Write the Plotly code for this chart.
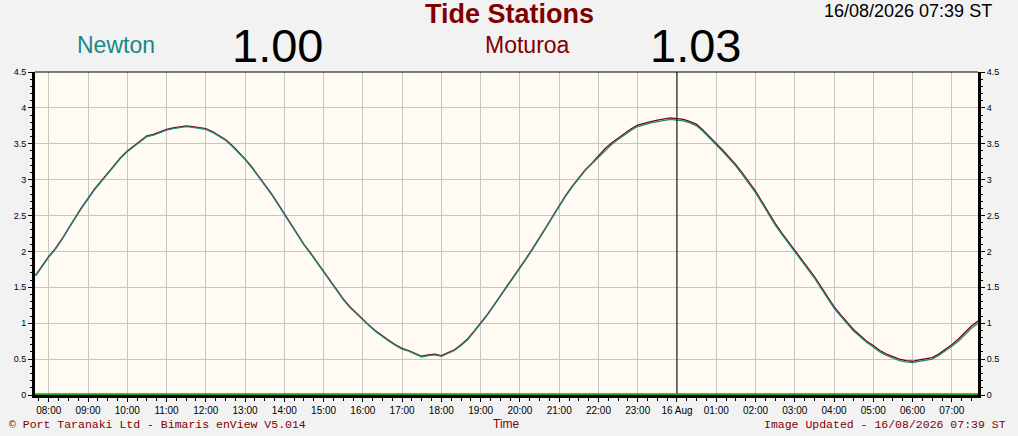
import pandas as pd
import plotly.graph_objects as go

# ── Data (tide height in metres, 10-minute readings from 07:40 15 Aug) ──────
START = "2026-08-15 07:40"
STEP = "10min"

newton = [
    1.66, 1.79,
    1.92, 2.03, 2.16, 2.31, 2.46, 2.60,
    2.73, 2.86, 2.97, 3.08, 3.18, 3.30,
    3.39, 3.46, 3.54, 3.60, 3.62, 3.66,
    3.69, 3.71, 3.72, 3.74, 3.73, 3.72,
    3.70, 3.66, 3.61, 3.55, 3.47, 3.38,
    3.28, 3.17, 3.05, 2.93, 2.80, 2.66,
    2.52, 2.38, 2.23, 2.09, 1.97, 1.84,
    1.72, 1.58, 1.45, 1.33, 1.22, 1.13,
    1.05, 0.96, 0.88, 0.81, 0.75, 0.69,
    0.64, 0.61, 0.57, 0.53, 0.55, 0.56,
    0.54, 0.58, 0.62, 0.69, 0.77, 0.88,
    0.99, 1.11, 1.24, 1.37, 1.50, 1.63,
    1.76, 1.90, 2.04, 2.18, 2.33, 2.48,
    2.63, 2.77, 2.90, 3.02, 3.13, 3.22,
    3.31, 3.41, 3.49, 3.56, 3.63, 3.69,
    3.74, 3.77, 3.79, 3.81, 3.82, 3.84,
    3.83, 3.82, 3.79, 3.75, 3.67, 3.58,
    3.49, 3.39, 3.29, 3.19, 3.07, 2.95,
    2.82, 2.67, 2.52, 2.37, 2.24, 2.12,
    2.00, 1.88, 1.76, 1.63, 1.49, 1.35,
    1.21, 1.10, 0.99, 0.89, 0.81, 0.73,
    0.67, 0.60, 0.55, 0.51, 0.48, 0.46,
    0.45, 0.47, 0.48, 0.50, 0.55, 0.61,
    0.68, 0.75, 0.84, 0.93, 1.00,
]

moturoa = [
    1.67, 1.80,
    1.93, 2.04, 2.17, 2.32, 2.47, 2.61,
    2.74, 2.87, 2.98, 3.09, 3.19, 3.31,
    3.40, 3.47, 3.55, 3.61, 3.63, 3.67,
    3.70, 3.72, 3.73, 3.75, 3.74, 3.73,
    3.71, 3.67, 3.62, 3.56, 3.48, 3.39,
    3.29, 3.18, 3.06, 2.94, 2.81, 2.67,
    2.53, 2.39, 2.24, 2.10, 1.98, 1.85,
    1.73, 1.59, 1.46, 1.34, 1.23, 1.14,
    1.06, 0.97, 0.89, 0.82, 0.76, 0.70,
    0.65, 0.62, 0.58, 0.54, 0.56, 0.57,
    0.55, 0.59, 0.63, 0.70, 0.78, 0.89,
    1.00, 1.12, 1.25, 1.38, 1.51, 1.64,
    1.77, 1.91, 2.05, 2.19, 2.34, 2.49,
    2.64, 2.78, 2.91, 3.03, 3.14, 3.23,
    3.33, 3.43, 3.51, 3.58, 3.65, 3.71,
    3.76, 3.79, 3.81, 3.83, 3.84, 3.86,
    3.85, 3.84, 3.81, 3.77, 3.69, 3.60,
    3.51, 3.41, 3.31, 3.21, 3.09, 2.97,
    2.84, 2.69, 2.54, 2.39, 2.26, 2.14,
    2.02, 1.90, 1.78, 1.65, 1.51, 1.37,
    1.23, 1.12, 1.01, 0.91, 0.83, 0.75,
    0.69, 0.62, 0.57, 0.53, 0.50, 0.48,
    0.47, 0.49, 0.50, 0.52, 0.57, 0.63,
    0.70, 0.78, 0.87, 0.96, 1.03,
]

hour_labels = [
    "08:00", "09:00", "10:00", "11:00", "12:00", "13:00", "14:00", "15:00",
    "16:00", "17:00", "18:00", "19:00", "20:00", "21:00", "22:00", "23:00",
    "16 Aug", "01:00", "02:00", "03:00", "04:00", "05:00", "06:00", "07:00",
]
X_RANGE = ["2026-08-15 07:39", "2026-08-16 07:40"]
CURSOR = "2026-08-16 00:00"
latest = {"Newton": "1.00", "Moturoa": "1.03"}

# ── Build figure ─────────────────────────────────────────────────────────────
times = pd.date_range(START, periods=len(newton), freq=STEP)
hour_ticks = pd.date_range("2026-08-15 08:00", periods=len(hour_labels), freq="1h")

TEAL = "#1b8787"
MAROON = "#800000"
GRID = "#c6c6c6"
SANS = "Liberation Sans, Arial, sans-serif"
MONO = "Liberation Mono, Courier New, monospace"

fig = go.Figure()
fig.add_trace(go.Scatter(x=times, y=moturoa, mode="lines", name="Moturoa",
                         line=dict(color=MAROON, width=1.3), showlegend=False))
fig.add_trace(go.Scatter(x=times, y=newton, mode="lines", name="Newton",
                         line=dict(color=TEAL, width=1.3), showlegend=False))
# empty trace so the right-hand mirror axis gets drawn
fig.add_trace(go.Scatter(x=[None], y=[None], yaxis="y2", showlegend=False))

# cursor line, green datum line, thin top border
fig.add_shape(type="line", xref="x", yref="paper", x0=CURSOR, x1=CURSOR,
              y0=0, y1=1, line=dict(color="black", width=1))
fig.add_shape(type="line", xref="paper", yref="y", x0=0, x1=1, y0=0.01, y1=0.01,
              line=dict(color="#22a022", width=2))
fig.add_shape(type="line", xref="paper", yref="paper", x0=0, x1=1, y0=1, y1=1,
              line=dict(color="black", width=1))

yaxis_common = dict(
    range=[0, 4.5], dtick=0.5, tick0=0, gridcolor=GRID, gridwidth=1,
    zeroline=False, showline=True, linecolor="black", linewidth=3,
    ticks="outside", ticklen=4, tickcolor="black", tickwidth=1,
    tickfont=dict(family=SANS, size=9, color="black"),
    minor=dict(dtick=0.1, ticks="outside", ticklen=2, tickcolor="black", showgrid=False),
)

fig.update_layout(
    width=1018, height=436,
    margin=dict(l=35, r=40, t=72, b=41),
    paper_bgcolor="#f2f2f2", plot_bgcolor="#fffbf2",
    xaxis=dict(
        type="date", range=X_RANGE,
        tickmode="array", tickvals=hour_ticks, ticktext=hour_labels,
        showgrid=True, gridcolor=GRID, gridwidth=1, zeroline=False,
        showline=True, linecolor="black", linewidth=3,
        ticks="outside", ticklen=4, tickcolor="black",
        tickfont=dict(family=SANS, size=10, color="black"),
        minor=dict(dtick=15 * 60 * 1000, ticks="outside", ticklen=3,
                   tickcolor="black", showgrid=False),
    ),
    yaxis=dict(side="left", showgrid=True, **yaxis_common),
    yaxis2=dict(side="right", overlaying="y", showgrid=False, **yaxis_common),
)

annotations = [
    dict(text="<b>Tide Stations</b>", x=509, y=14, font=dict(size=27, color=MAROON, family=SANS)),
    dict(text="16/08/2026 07:39 ST", x=908, y=11, font=dict(size=18, color="black", family=SANS)),
    dict(text="Newton", x=116, y=45, font=dict(size=23, color=TEAL, family=SANS)),
    dict(text=latest["Newton"], x=277, y=46, font=dict(size=47, color="black", family=SANS)),
    dict(text="Moturoa", x=527, y=45, font=dict(size=23, color=MAROON, family=SANS)),
    dict(text=latest["Moturoa"], x=695, y=46, font=dict(size=47, color="black", family=SANS)),
    dict(text="Time", x=506, y=424, font=dict(size=12, color=MAROON, family=SANS)),
    dict(text="© Port Taranaki Ltd - Bimaris enView V5.014", x=157, y=424,
         font=dict(size=11.5, color=MAROON, family=MONO)),
    dict(text="Image Updated - 16/08/2026 07:39 ST", x=885, y=424,
         font=dict(size=11.5, color=MAROON, family=MONO)),
]
# positions given in page pixels -> paper coordinates
pw, ph = 1018 - 35 - 40, 436 - 72 - 41
for a in annotations:
    fig.add_annotation(
        text=a["text"], showarrow=False, xref="paper", yref="paper",
        x=(a["x"] - 35) / pw, y=(436 - 41 - a["y"]) / ph,
        xanchor="center", yanchor="middle", font=a["font"],
    )

# page body has a default 8px margin; remove it so the figure sits at 0,0
fig.write_html("out.html",
               config={"displayModeBar": False},
               post_script="document.body.style.margin='0';"
                           "document.body.style.overflow='hidden';")
